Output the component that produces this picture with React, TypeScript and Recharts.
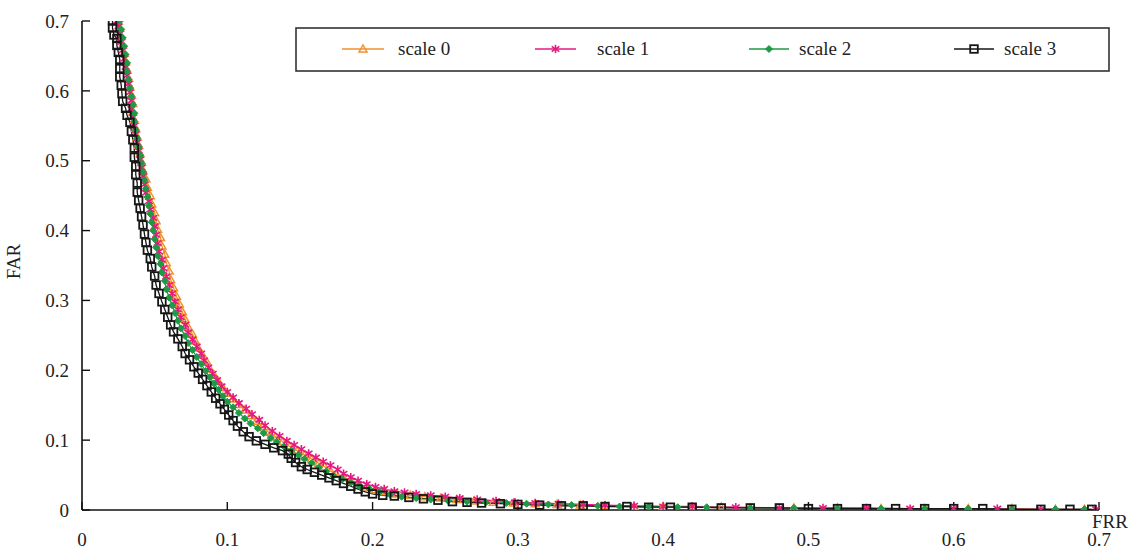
import React from "react";
import { LineChart, Line, XAxis, YAxis } from "recharts";

const xTicks = [0, 0.1, 0.2, 0.3, 0.4, 0.5, 0.6, 0.7];
const yTicks = [0, 0.1, 0.2, 0.3, 0.4, 0.5, 0.6, 0.7];
const seriesNames = ["scale 0", "scale 1", "scale 2", "scale 3"];

// [FRR, FAR]
const scale0: [number, number][] = [
  [0.025,0.700],[0.026,0.690],[0.027,0.678],[0.028,0.666],[0.029,0.654],[0.030,0.642],[0.031,0.630],[0.032,0.618],[0.033,0.606],[0.034,0.594],[0.035,0.582],[0.035,0.570],[0.036,0.558],[0.037,0.546],[0.038,0.534],[0.039,0.522],[0.040,0.510],[0.041,0.498],[0.042,0.486],[0.044,0.474],[0.045,0.462],[0.047,0.450],[0.048,0.438],[0.050,0.426],[0.051,0.414],[0.052,0.402],[0.054,0.390],[0.055,0.378],[0.057,0.366],[0.058,0.354],[0.060,0.342],[0.061,0.330],[0.063,0.318],[0.065,0.306],[0.067,0.295],[0.069,0.284],[0.071,0.273],[0.073,0.262],[0.076,0.252],[0.078,0.242],[0.080,0.232],[0.083,0.222],[0.086,0.212],[0.088,0.202],[0.091,0.193],[0.094,0.184],[0.097,0.175],[0.100,0.167],[0.104,0.159],[0.108,0.151],[0.112,0.143],[0.116,0.135],[0.120,0.127],[0.124,0.119],[0.128,0.112],[0.133,0.105],[0.138,0.098],[0.143,0.091],[0.148,0.085],[0.153,0.079],[0.158,0.073],[0.163,0.067],[0.167,0.062],[0.171,0.056],[0.175,0.051],[0.180,0.046],[0.185,0.041],[0.190,0.037],[0.196,0.033],[0.202,0.029],[0.209,0.026],[0.217,0.023],[0.226,0.021],[0.236,0.019],[0.247,0.017],[0.258,0.015],[0.270,0.013],[0.283,0.011],[0.297,0.010],[0.312,0.009],[0.327,0.008],[0.343,0.007],[0.360,0.006],[0.380,0.005],[0.400,0.005],[0.420,0.004],[0.440,0.004],[0.460,0.003],[0.490,0.003],[0.520,0.003],[0.550,0.002],[0.580,0.002],[0.610,0.002],[0.640,0.002],[0.670,0.001],[0.690,0.001]
];

const scale1: [number, number][] = [
  [0.024,0.700],[0.025,0.692],[0.026,0.682],[0.027,0.670],[0.028,0.658],[0.029,0.646],[0.030,0.634],[0.031,0.622],[0.032,0.610],[0.033,0.598],[0.034,0.586],[0.034,0.574],[0.035,0.562],[0.036,0.550],[0.037,0.538],[0.038,0.526],[0.039,0.514],[0.040,0.502],[0.041,0.490],[0.042,0.478],[0.043,0.466],[0.044,0.454],[0.046,0.442],[0.047,0.430],[0.049,0.418],[0.050,0.406],[0.051,0.394],[0.052,0.382],[0.053,0.370],[0.055,0.358],[0.056,0.346],[0.058,0.334],[0.060,0.322],[0.062,0.310],[0.064,0.298],[0.066,0.287],[0.068,0.276],[0.071,0.265],[0.073,0.254],[0.076,0.244],[0.079,0.234],[0.082,0.224],[0.084,0.214],[0.087,0.204],[0.090,0.195],[0.093,0.186],[0.096,0.177],[0.100,0.169],[0.104,0.161],[0.108,0.153],[0.113,0.145],[0.117,0.137],[0.122,0.129],[0.126,0.121],[0.131,0.113],[0.136,0.106],[0.141,0.099],[0.146,0.093],[0.151,0.087],[0.156,0.081],[0.161,0.075],[0.166,0.069],[0.171,0.064],[0.176,0.058],[0.180,0.052],[0.185,0.047],[0.190,0.042],[0.196,0.037],[0.202,0.033],[0.208,0.030],[0.215,0.027],[0.222,0.025],[0.230,0.023],[0.240,0.021],[0.250,0.019],[0.260,0.017],[0.272,0.015],[0.285,0.013],[0.298,0.011],[0.312,0.010],[0.328,0.009],[0.345,0.008],[0.360,0.007],[0.380,0.006],[0.400,0.005],[0.420,0.005],[0.450,0.004],[0.480,0.003],[0.510,0.003],[0.540,0.003],[0.570,0.002],[0.600,0.002],[0.630,0.002],[0.660,0.001],[0.698,0.001]
];

const scale2: [number, number][] = [
  [0.026,0.700],[0.027,0.688],[0.028,0.676],[0.029,0.664],[0.030,0.652],[0.031,0.640],[0.031,0.628],[0.032,0.616],[0.033,0.604],[0.034,0.592],[0.035,0.580],[0.036,0.568],[0.036,0.556],[0.037,0.544],[0.038,0.532],[0.039,0.520],[0.040,0.508],[0.041,0.496],[0.042,0.484],[0.043,0.472],[0.044,0.460],[0.045,0.448],[0.046,0.436],[0.047,0.424],[0.048,0.412],[0.049,0.400],[0.050,0.388],[0.051,0.376],[0.052,0.364],[0.054,0.352],[0.055,0.340],[0.057,0.328],[0.058,0.316],[0.060,0.304],[0.062,0.293],[0.064,0.282],[0.066,0.271],[0.068,0.260],[0.071,0.249],[0.073,0.239],[0.076,0.229],[0.079,0.219],[0.082,0.209],[0.085,0.199],[0.088,0.190],[0.091,0.181],[0.094,0.172],[0.097,0.163],[0.100,0.155],[0.104,0.147],[0.108,0.139],[0.112,0.131],[0.116,0.124],[0.121,0.117],[0.125,0.110],[0.130,0.103],[0.134,0.097],[0.139,0.091],[0.144,0.085],[0.149,0.079],[0.153,0.073],[0.158,0.067],[0.163,0.061],[0.168,0.055],[0.173,0.049],[0.179,0.044],[0.185,0.039],[0.191,0.034],[0.198,0.030],[0.205,0.026],[0.212,0.022],[0.220,0.019],[0.230,0.017],[0.240,0.015],[0.252,0.013],[0.265,0.012],[0.278,0.011],[0.292,0.010],[0.306,0.009],[0.321,0.008],[0.337,0.007],[0.355,0.006],[0.370,0.005],[0.390,0.005],[0.410,0.004],[0.430,0.004],[0.460,0.003],[0.490,0.003],[0.520,0.002],[0.550,0.002],[0.580,0.002],[0.610,0.002],[0.640,0.001],[0.670,0.001],[0.690,0.001]
];

const scale3: [number, number][] = [
  [0.021,0.700],[0.021,0.690],[0.022,0.680],[0.024,0.675],[0.024,0.665],[0.025,0.655],[0.026,0.645],[0.026,0.632],[0.026,0.620],[0.027,0.608],[0.0275,0.596],[0.028,0.585],[0.030,0.575],[0.031,0.565],[0.033,0.555],[0.034,0.542],[0.035,0.530],[0.036,0.518],[0.036,0.505],[0.037,0.492],[0.037,0.480],[0.038,0.468],[0.038,0.455],[0.039,0.443],[0.040,0.432],[0.041,0.420],[0.042,0.408],[0.043,0.395],[0.044,0.383],[0.045,0.372],[0.047,0.360],[0.048,0.348],[0.050,0.335],[0.051,0.322],[0.053,0.310],[0.055,0.298],[0.057,0.287],[0.059,0.276],[0.061,0.265],[0.063,0.255],[0.066,0.245],[0.069,0.234],[0.071,0.224],[0.074,0.215],[0.077,0.205],[0.080,0.196],[0.083,0.187],[0.086,0.178],[0.089,0.169],[0.092,0.160],[0.095,0.152],[0.098,0.144],[0.101,0.136],[0.104,0.128],[0.107,0.120],[0.111,0.112],[0.115,0.105],[0.120,0.099],[0.126,0.094],[0.132,0.089],[0.138,0.085],[0.142,0.080],[0.144,0.074],[0.147,0.068],[0.151,0.062],[0.155,0.058],[0.160,0.054],[0.165,0.050],[0.170,0.046],[0.175,0.042],[0.180,0.038],[0.185,0.034],[0.190,0.030],[0.195,0.026],[0.200,0.023],[0.207,0.021],[0.215,0.020],[0.225,0.018],[0.235,0.016],[0.245,0.014],[0.255,0.012],[0.265,0.011],[0.275,0.010],[0.288,0.009],[0.300,0.008],[0.315,0.007],[0.330,0.006],[0.345,0.006],[0.360,0.005],[0.375,0.005],[0.390,0.004],[0.405,0.004],[0.420,0.004],[0.440,0.003],[0.460,0.003],[0.480,0.003],[0.500,0.002],[0.520,0.002],[0.540,0.002],[0.560,0.002],[0.580,0.002],[0.600,0.002],[0.620,0.002],[0.640,0.001],[0.660,0.001],[0.680,0.001],[0.695,0.001]
];

const toRows = (arr: [number, number][]) => arr.map(([frr, far]) => ({ frr, far }));

const COLORS = ["#F0912E", "#E5197F", "#1E9A46", "#161616"];
const FONT = '"Liberation Serif", "DejaVu Serif", serif';

function Marker({ kind, cx, cy, color }: { kind: number; cx: number; cy: number; color: string }) {
  if (cx == null || cy == null || isNaN(cx) || isNaN(cy)) return null;
  if (kind === 0) {
    return (
      <polygon
        points={`${cx},${cy - 4} ${cx - 4},${cy + 3} ${cx + 4},${cy + 3}`}
        fill="none"
        stroke={color}
        strokeWidth={1.5}
      />
    );
  }
  if (kind === 1) {
    return (
      <g stroke={color} strokeWidth={1.6}>
        <line x1={cx} y1={cy - 4.2} x2={cx} y2={cy + 4.2} />
        <line x1={cx - 3.8} y1={cy - 2.6} x2={cx + 3.8} y2={cy + 2.6} />
        <line x1={cx - 3.8} y1={cy + 2.6} x2={cx + 3.8} y2={cy - 2.6} />
      </g>
    );
  }
  if (kind === 2) {
    return (
      <polygon
        points={`${cx},${cy - 3.5} ${cx + 3.5},${cy} ${cx},${cy + 3.5} ${cx - 3.5},${cy}`}
        fill={color}
        stroke={color}
        strokeWidth={1}
      />
    );
  }
  return (
    <rect x={cx - 3.8} y={cy - 3.8} width={7.6} height={7.6} fill="none" stroke={color} strokeWidth={1.8} />
  );
}

const makeDot = (kind: number) => (props: any) => (
  <Marker key={`m-${kind}-${props.index}`} kind={kind} cx={props.cx} cy={props.cy} color={COLORS[kind]} />
);

const legendLines = [
  { x1: 47, x2: 89, tx: 103 },
  { x1: 240, x2: 281, tx: 302 },
  { x1: 454, x2: 494, tx: 504 },
  { x1: 659, x2: 699, tx: 709 },
];

function LegendBox() {
  return (
    <svg width={816} height={46} style={{ display: "block" }}>
      <rect x={1} y={1} width={813} height={43} fill="#fff" stroke="#333" strokeWidth={1.6} />
      {seriesNames.map((name, i) => {
        const l = legendLines[i];
        const mx = (l.x1 + l.x2) / 2;
        return (
          <g key={name}>
            <line x1={l.x1} y1={22} x2={l.x2} y2={22} stroke={COLORS[i]} strokeWidth={1.5} />
            <Marker kind={i} cx={mx} cy={22} color={COLORS[i]} />
            <text x={l.tx} y={28} style={{ fontFamily: FONT }} fontSize={19} fill="#222">
              {name}
            </text>
          </g>
        );
      })}
    </svg>
  );
}

const series = [scale0, scale1, scale2, scale3];

export default function App() {
  const tickStyle = { fontFamily: FONT, fontSize: 19, fill: "#222" };
  return (
    <div style={{ position: "absolute", left: 0, top: 0, width: 1134, height: 550, background: "#fff", fontFamily: FONT }}>
      <LineChart width={1134} height={550} margin={{ top: 21, right: 35, bottom: 0, left: 0 }} style={{ fontFamily: FONT }}>
        <XAxis
          type="number"
          dataKey="frr"
          domain={[0, 0.7]}
          ticks={xTicks}
          tickFormatter={(v: number) => String(v)}
          height={40}
          tick={tickStyle}
          tickSize={-8}
          tickMargin={31}
          axisLine={{ stroke: "#111", strokeWidth: 1.6 }}
          tickLine={{ stroke: "#111", strokeWidth: 1.4 }}
          allowDataOverflow
          label={(p: any) => {
            const vb = p.viewBox || {};
            return (
              <text x={vb.x + vb.width + 11} y={vb.y + 18} textAnchor="middle" style={{ fontFamily: FONT }} fontSize={19} fill="#222">
                FRR
              </text>
            );
          }}
        />
        <YAxis
          type="number"
          dataKey="far"
          domain={[0, 0.7]}
          ticks={yTicks}
          tickFormatter={(v: number) => String(v)}
          width={82}
          tick={tickStyle}
          tickSize={-8}
          tickMargin={21}
          axisLine={{ stroke: "#111", strokeWidth: 1.6 }}
          tickLine={{ stroke: "#111", strokeWidth: 1.4 }}
          allowDataOverflow
          label={(p: any) => {
            const vb = p.viewBox || {};
            const cy = vb.y + vb.height / 2 - 4;
            return (
              <text x={16} y={cy} transform={`rotate(-90 16 ${cy})`} textAnchor="middle" dominantBaseline="middle" style={{ fontFamily: FONT }} fontSize={19} fill="#222">
                FAR
              </text>
            );
          }}
        />
        {series.map((arr, i) => (
          <Line
            key={seriesNames[i]}
            name={seriesNames[i]}
            data={toRows(arr)}
            dataKey="far"
            type="linear"
            stroke={COLORS[i]}
            strokeWidth={1.3}
            dot={makeDot(i)}
            activeDot={false}
            isAnimationActive={false}
          />
        ))}
      </LineChart>
      <div style={{ position: "absolute", left: 295, top: 27 }}>
        <LegendBox />
      </div>
    </div>
  );
}
